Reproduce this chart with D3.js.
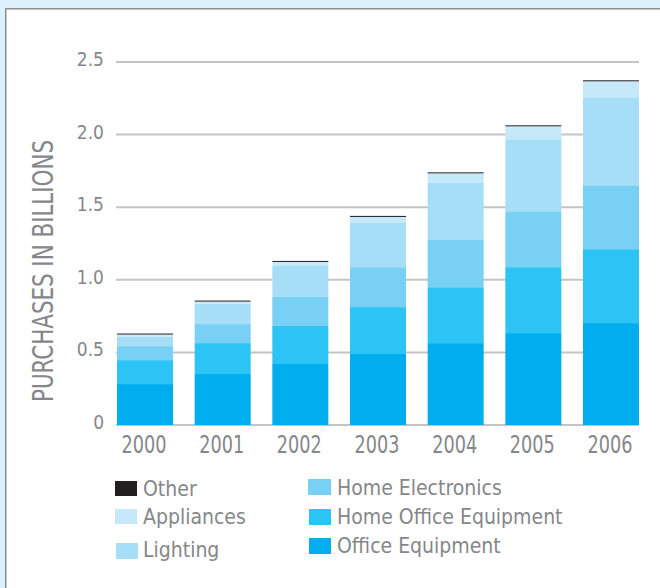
<!DOCTYPE html>
<html>
<head>
<meta charset="utf-8">
<script src="https://cdn.jsdelivr.net/npm/d3@7"></script>
<style>
  html, body { margin: 0; padding: 0; background: #dcf1fb; }
  svg { display: block; }
  text { font-family: "Liberation Sans Narrow", "DejaVu Sans Condensed", "Roboto Condensed", "Liberation Sans", sans-serif; fill: #85878a; }
</style>
</head>
<body>
<svg id="chart" width="660" height="588"></svg>
<script>
const years = ["2000", "2001", "2002", "2003", "2004", "2005", "2006"];
const seriesNames = ["Office Equipment", "Home Office Equipment", "Home Electronics", "Lighting", "Appliances", "Other"];
const officeEquipment     = [0.282, 0.351, 0.420, 0.489, 0.564, 0.633, 0.702];
const homeOfficeEquipment = [0.165, 0.213, 0.262, 0.323, 0.385, 0.454, 0.509];
const homeElectronics     = [0.096, 0.131, 0.200, 0.275, 0.330, 0.385, 0.440];
const lighting            = [0.064, 0.141, 0.213, 0.305, 0.392, 0.496, 0.606];
const appliances          = [0.016, 0.014, 0.028, 0.041, 0.062, 0.089, 0.110];
const other               = [0.007, 0.007, 0.007, 0.007, 0.007, 0.007, 0.007];
const yTicks = [0, 0.5, 1.0, 1.5, 2.0, 2.5];
const yTickLabels = ["0", "0.5", "1.0", "1.5", "2.0", "2.5"];
const colors = ["#00aeef", "#2cc4f4", "#79d0f5", "#a6def8", "#c6e9fa", "#231f20"];

const seriesValues = [officeEquipment, homeOfficeEquipment, homeElectronics, lighting, appliances, other];
const table = years.map((yr, i) => {
  const row = { year: yr };
  seriesNames.forEach((s, j) => row[s] = seriesValues[j][i]);
  return row;
});

const svg = d3.select("#chart");

// frame
svg.append("rect").attr("x", 5).attr("y", 8).attr("width", 660).attr("height", 590)
  .attr("fill", "#ffffff");
svg.append("path").attr("d", "M5.75,588 V8.75 H660")
  .attr("fill", "none").attr("stroke", "#8c8e90").attr("stroke-width", 1.5);

const x = d3.scaleBand().domain(years).range([117, 639]).paddingInner(0.279).paddingOuter(0);
const y = d3.scaleLinear().domain([0, 2.5]).range([425, 62]);

// gridlines
svg.append("g").selectAll("line").data(yTicks).join("line")
  .attr("x1", 116).attr("x2", 639)
  .attr("y1", d => y(d)).attr("y2", d => y(d))
  .attr("stroke", "#c4c4c4").attr("stroke-width", 2);

// y tick labels
svg.append("g").selectAll("text").data(yTicks).join("text")
  .attr("x", 104).attr("y", d => y(d) + 4)
  .attr("text-anchor", "end").attr("font-size", 19)
  .text((d, i) => yTickLabels[i]);

// stacked bars
const stack = d3.stack().keys(seriesNames);
const stacked = stack(table);
svg.append("g").selectAll("g").data(stacked).join("g")
  .attr("fill", (d, i) => colors[i])
  .selectAll("rect").data(d => d).join("rect")
  .attr("x", d => x(d.data.year))
  .attr("width", x.bandwidth())
  .attr("y", d => y(d[1]))
  .attr("height", d => y(d[0]) - y(d[1]));

// x labels
svg.append("g").selectAll("text").data(years).join("text")
  .attr("x", d => x(d) + x.bandwidth() / 2 - 1).attr("y", 453)
  .attr("text-anchor", "middle").attr("font-size", 24.5)
  .attr("textLength", 45).attr("lengthAdjust", "spacingAndGlyphs")
  .text(d => d);

// y title
svg.append("text")
  .attr("transform", "translate(53,271) rotate(-90)")
  .attr("text-anchor", "middle").attr("font-size", 29)
  .attr("textLength", 262).attr("lengthAdjust", "spacingAndGlyphs")
  .text("PURCHASES IN BILLIONS");

// legend
const legendItems = [
  { name: "Other", idx: 5, rx: 115, ry: 481, w: 22, h: 15, tx: 143, ty: 496 },
  { name: "Appliances", idx: 4, rx: 115, ry: 509, w: 22, h: 15, tx: 143, ty: 524 },
  { name: "Lighting", idx: 3, rx: 116, ry: 543, w: 22, h: 16, tx: 143, ty: 557 },
  { name: "Home Electronics", idx: 2, rx: 308, ry: 479, w: 23, h: 16, tx: 337, ty: 495 },
  { name: "Home Office Equipment", idx: 1, rx: 309, ry: 509, w: 22, h: 16, tx: 337, ty: 524 },
  { name: "Office Equipment", idx: 0, rx: 309, ry: 538, w: 22, h: 16, tx: 337, ty: 553 }
];
const lg = svg.append("g");
lg.selectAll("rect").data(legendItems).join("rect")
  .attr("x", d => d.rx).attr("y", d => d.ry).attr("width", d => d.w).attr("height", d => d.h)
  .attr("fill", d => colors[d.idx]);
lg.selectAll("text").data(legendItems).join("text")
  .attr("x", d => d.tx).attr("y", d => d.ty).attr("font-size", 21)
  .text(d => d.name);
</script>
</body>
</html>
